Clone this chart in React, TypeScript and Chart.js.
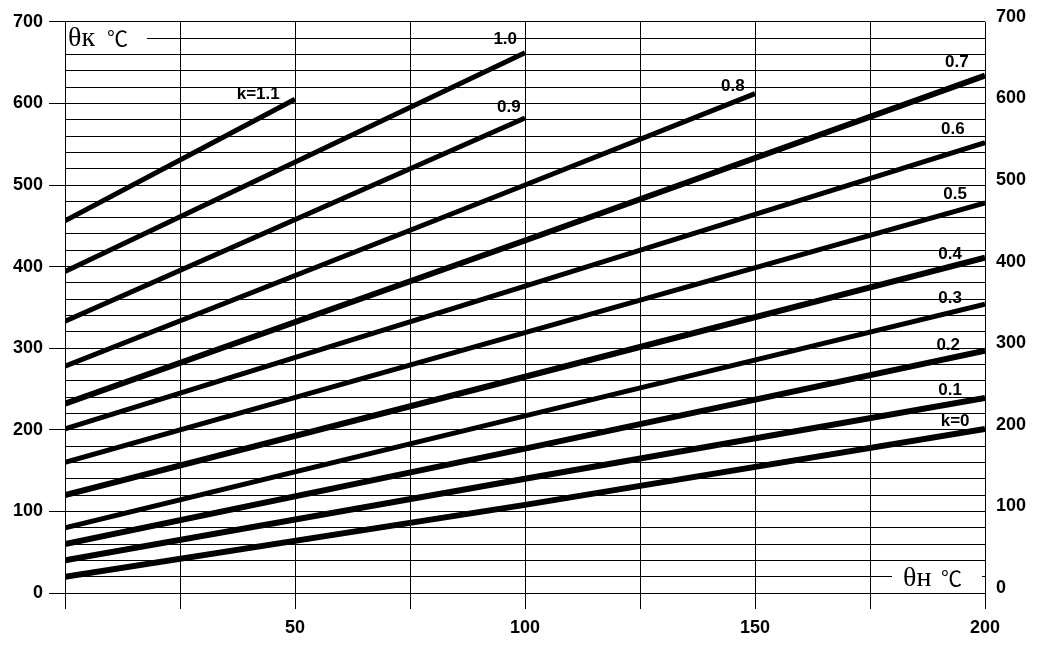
import React, { useEffect, useRef } from "react";
import { Chart, registerables } from "chart.js";

Chart.register(...registerables);

// ---- data ----
const seriesNames = ["k=1.1", "1.0", "0.9", "0.8", "0.7", "0.6", "0.5", "0.4", "0.3", "0.2", "0.1", "k=0"];

const xTo50 = [0, 50];
const xTo100 = [0, 100];
const xTo150 = [0, 100, 150];
const xFull = [0, 100, 200];

const yK110 = [456, 605];
const yK100 = [394, 662];
const yK090 = [333, 582];
const yK080 = [278, 500, 612];
const yK070 = [232, 432, 634];
const yK060 = [201, 376, 552];
const yK050 = [160, 319, 478];
const yK040 = [120, 265, 411];
const yK030 = [80, 217, 354];
const yK020 = [60, 177, 297];
const yK010 = [40, 140, 239];
const yK000 = [20, 108, 201];

// label anchors (data units) for each curve's tag
const tagX = [42, 95.7, 96.5, 145.2, 193.9, 193, 193.5, 192.4, 192.4, 192, 192.4, 193.5];
const tagY = [611, 679, 595, 621, 650, 568, 488, 415, 361, 304, 249, 210];

const xTickLabels = [50, 100, 150, 200];
const yTickLabels = [0, 100, 200, 300, 400, 500, 600, 700];

const yTitle = ["θк", "℃"];
const xTitle = ["θн", "℃"];

const seriesX = [xTo50, xTo100, xTo100, xTo150, xFull, xFull, xFull, xFull, xFull, xFull, xFull, xFull];
const seriesY = [yK110, yK100, yK090, yK080, yK070, yK060, yK050, yK040, yK030, yK020, yK010, yK000];
const thickSeries = new Set(["0.7", "0.4", "0.2", "0.1", "k=0"]);

const TICK_FONT = { family: "'Liberation Sans', Arial, sans-serif", size: 18, weight: "bold" as const };

const annotPlugin = {
  id: "annot",
  afterDraw(chart: any) {
    const { ctx, chartArea, scales } = chart;
    const xs = scales.x;
    const ys = scales.y;
    ctx.save();
    // y title
    ctx.fillStyle = "#ffffff";
    ctx.fillRect(chartArea.left + 1, chartArea.top + 3, 81, 27);
    ctx.fillStyle = "#000";
    ctx.textBaseline = "alphabetic";
    ctx.textAlign = "left";
    ctx.font = "28px 'Liberation Serif', 'Times New Roman', serif";
    ctx.fillText(yTitle[0], chartArea.left + 3, chartArea.top + 24);
    ctx.font = "21px 'Noto Sans CJK SC', sans-serif";
    ctx.fillText(yTitle[1], chartArea.left + 42, chartArea.top + 24);
    // x title
    ctx.fillStyle = "#ffffff";
    ctx.fillRect(chartArea.right - 93, chartArea.bottom - 29, 90, 27);
    ctx.fillStyle = "#000";
    ctx.font = "28px 'Liberation Serif', 'Times New Roman', serif";
    ctx.fillText(xTitle[0], chartArea.right - 82, chartArea.bottom - 7);
    ctx.font = "21px 'Noto Sans CJK SC', sans-serif";
    ctx.fillText(xTitle[1], chartArea.right - 44, chartArea.bottom - 7);
    // curve tags
    ctx.font = "bold 17px 'Liberation Sans', Arial, sans-serif";
    ctx.textAlign = "center";
    ctx.textBaseline = "middle";
    seriesNames.forEach((name, i) => {
      ctx.fillText(name, xs.getPixelForValue(tagX[i]), ys.getPixelForValue(tagY[i]));
    });
    ctx.restore();
  },
};

export default function App() {
  const ref = useRef<HTMLCanvasElement | null>(null);

  useEffect(() => {
    if (!ref.current) return;
    const datasets = seriesNames.map((name, i) => ({
      label: name,
      data: seriesX[i].map((x, j) => ({ x, y: seriesY[i][j] })),
      borderColor: "#000",
      backgroundColor: "#000",
      borderWidth: thickSeries.has(name) ? 6 : 5,
      pointRadius: 0,
      tension: 0,
      fill: false,
    }));

    const chart = new Chart(ref.current, {
      type: "line",
      data: { datasets },
      options: {
        animation: false,
        responsive: false,
        layout: { padding: { top: 19, left: 0, right: 0, bottom: 0 } },
        plugins: { legend: { display: false }, tooltip: { enabled: false } },
        scales: {
          x: {
            type: "linear",
            min: 0,
            max: 200,
            afterFit: (s: any) => {
              s.height = 52;
            },
            ticks: {
              stepSize: 25,
              autoSkip: false,
              maxRotation: 0,
              padding: 8,
              color: "#000",
              font: TICK_FONT,
              callback: (v: any) => (xTickLabels.includes(Number(v)) ? String(v) : ""),
            },
            grid: { color: "#000", lineWidth: 1, tickLength: 16, tickColor: "#000" },
            border: { color: "#000", width: 1 },
          },
          y: {
            type: "linear",
            position: "left",
            min: 0,
            max: 700,
            afterFit: (s: any) => {
              s.width = 65;
            },
            ticks: {
              stepSize: 20,
              autoSkip: false,
              padding: 6,
              color: "#000",
              font: TICK_FONT,
              callback: (v: any) => (yTickLabels.includes(Number(v)) ? String(v) : ""),
            },
            grid: {
              color: "#000",
              lineWidth: 1,
              tickLength: 16,
              tickColor: (c: any) => (c.tick && c.tick.value % 100 === 0 ? "#000" : "rgba(0,0,0,0)"),
            },
            border: { color: "#000", width: 1 },
          },
          y2: {
            type: "linear",
            position: "right",
            min: 0,
            max: 700,
            afterFit: (s: any) => {
              s.width = 56;
            },
            ticks: {
              stepSize: 100,
              autoSkip: false,
              padding: 11,
              labelOffset: -5,
              color: "#000",
              font: TICK_FONT,
              callback: (v: any) => (yTickLabels.includes(Number(v)) ? String(v) : ""),
            },
            grid: { display: false, drawTicks: false },
            border: { display: false },
          },
        },
      },
      plugins: [annotPlugin],
    });
    return () => chart.destroy();
  }, []);

  return (
    <div style={{ position: "fixed", left: 0, top: 0, width: 1041, height: 645, background: "#fff" }}>
      <canvas ref={ref} width={1041} height={645} style={{ width: 1041, height: 645 }} />
    </div>
  );
}
